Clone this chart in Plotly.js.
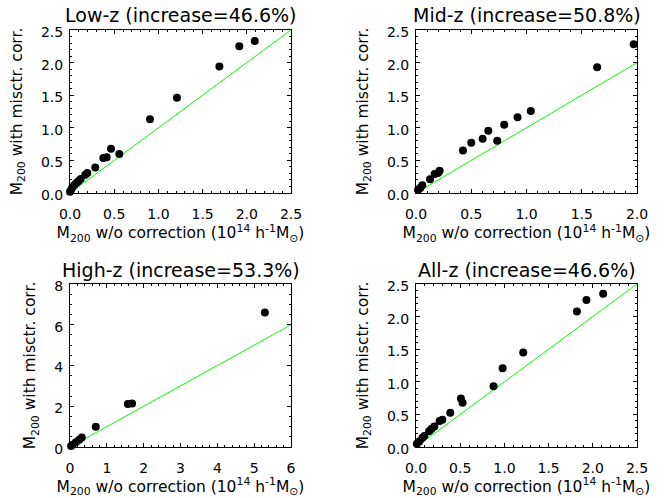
<!DOCTYPE html>
<html>
<head>
<meta charset="utf-8">
<script src="https://cdn.plot.ly/plotly-3.0.1.min.js"></script>
<style>html,body{margin:0;padding:0;background:#fff;}</style>
</head>
<body>
<div id="chart" style="width:671px;height:498px;"></div>
<script>
// ---- data ----
const panelTitles = ["Low-z (increase=46.6%)", "Mid-z (increase=50.8%)", "High-z (increase=53.3%)", "All-z (increase=46.6%)"];

const lowX = [0.0, 0.009, 0.024, 0.047, 0.069, 0.094, 0.121, 0.173, 0.196, 0.286, 0.377, 0.415, 0.464, 0.558, 0.905, 1.21, 1.69, 1.915, 2.09];
const lowY = [0.02, 0.04, 0.08, 0.12, 0.15, 0.18, 0.215, 0.28, 0.307, 0.39, 0.537, 0.55, 0.68, 0.60, 1.13, 1.46, 1.94, 2.25, 2.33];

const midX = [0.018, 0.039, 0.057, 0.127, 0.169, 0.199, 0.214, 0.425, 0.50, 0.603, 0.654, 0.735, 0.798, 0.919, 1.039, 1.639, 1.97];
const midY = [0.046, 0.077, 0.118, 0.21, 0.29, 0.307, 0.342, 0.65, 0.77, 0.833, 0.955, 0.80, 1.047, 1.16, 1.257, 1.93, 2.28];

const highX = [0.03, 0.07, 0.16, 0.25, 0.32, 0.70, 1.57, 1.685, 5.29];
const highY = [0.05, 0.11, 0.23, 0.36, 0.47, 0.99, 2.11, 2.13, 6.60];

const allX = [0.01, 0.04, 0.073, 0.095, 0.148, 0.174, 0.207, 0.267, 0.298, 0.388, 0.508, 0.527, 0.877, 0.98, 1.213, 1.82, 1.928, 2.117];
const allY = [0.05, 0.09, 0.14, 0.17, 0.24, 0.275, 0.315, 0.40, 0.417, 0.524, 0.743, 0.68, 0.932, 1.207, 1.45, 2.08, 2.255, 2.35];

// one-to-one reference lines (x = y) spanning each panel's x range
const lineLow = [0, 2.5];
const lineMid = [0, 2.0];
const lineHigh = [0, 6];
const lineAll = [0, 2.5];

const xRanges = [[0, 2.5], [0, 2.0], [0, 6], [0, 2.5]];
const yRanges = [[0, 2.5], [0, 2.5], [0, 8], [0, 2.5]];
const xDticks = [0.5, 0.5, 1, 0.5];
const yDticks = [0.5, 0.5, 2, 0.5];
const xMinor = [0.1, 0.1, 0.2, 0.1];
const yMinor = [0.1, 0.1, 0.5, 0.1];
const tickFormats = [".1f", ".1f", "d", ".1f"];

const xTitle = "M<sub>200</sub> w/o correction (10<sup>14</sup> h<sup>-1</sup>M<sub>⊙</sub>)";
const yTitle = "M<sub>200</sub> with misctr. corr.";

// ---- layout geometry ----
const W = 671, H = 498;
const colX = [[70, 291], [416, 637]];
const rowY = [[30, 193], [284, 447]];
const titleOffset = [15, 14];
const FONT = "DejaVu Sans, sans-serif";

const seriesX = [lowX, midX, highX, allX];
const seriesY = [lowY, midY, highY, allY];
const lines = [lineLow, lineMid, lineHigh, lineAll];

const traces = [];
const layout = {
  width: W, height: H,
  margin: {l: 0, r: 0, t: 0, b: 0},
  paper_bgcolor: "#fff", plot_bgcolor: "#fff",
  showlegend: false,
  font: {family: FONT, color: "#000", size: 14},
  annotations: []
};

for (let i = 0; i < 4; i++) {
  const c = i % 2, r = Math.floor(i / 2);
  const sfx = i === 0 ? "" : String(i + 1);
  const xa = "x" + sfx, ya = "y" + sfx;
  traces.push({
    type: "scatter", mode: "lines", x: lines[i], y: lines[i],
    xaxis: xa, yaxis: ya, line: {color: "#00ff00", width: 1}, hoverinfo: "skip"
  });
  traces.push({
    type: "scatter", mode: "markers", x: seriesX[i], y: seriesY[i],
    xaxis: xa, yaxis: ya, cliponaxis: false,
    marker: {symbol: "circle", size: 8, color: "#000"}
  });
  const xd = [colX[c][0] / W, colX[c][1] / W];
  const yd = [(H - rowY[r][1]) / H, (H - rowY[r][0]) / H];
  const common = {
    showgrid: false, zeroline: false, showline: true, linecolor: "#000", linewidth: 1,
    mirror: "ticks", ticks: "inside", ticklen: 4, tickwidth: 1, tickcolor: "#000",
    tickfont: {family: FONT, size: 14, color: "#000"},
    fixedrange: true
  };
  layout["xaxis" + sfx] = Object.assign({}, common, {
    domain: xd, anchor: ya, range: xRanges[i], tickmode: "linear", tick0: 0, dtick: xDticks[i],
    tickformat: tickFormats[i], ticklabelstandoff: 8,
    minor: {ticks: "inside", ticklen: 2, tickcolor: "#000", dtick: xMinor[i], tick0: 0, showgrid: false},
    title: {text: xTitle, font: {family: FONT, size: 15.5, color: "#000"}, standoff: 0}
  });
  layout["yaxis" + sfx] = Object.assign({}, common, {
    domain: yd, anchor: xa, range: yRanges[i], tickmode: "linear", tick0: 0, dtick: yDticks[i],
    tickformat: tickFormats[i], ticklabelstandoff: 3, ticklabelshift: 2,
    minor: {ticks: "inside", ticklen: 2, tickcolor: "#000", dtick: yMinor[i], tick0: 0, showgrid: false},
    title: {text: yTitle, font: {family: FONT, size: 15.5, color: "#000"}, standoff: 14}
  });
  layout.annotations.push({
    text: panelTitles[i], xref: "paper", yref: "paper",
    x: (xd[0] + xd[1]) / 2, y: (H - (rowY[r][0] - titleOffset[r])) / H,
    xanchor: "center", yanchor: "middle", showarrow: false, borderpad: 0,
    font: {family: FONT, size: 19, color: "#000"}
  });
}

Plotly.newPlot("chart", traces, layout, {displayModeBar: false, staticPlot: true});
</script>
</body>
</html>
